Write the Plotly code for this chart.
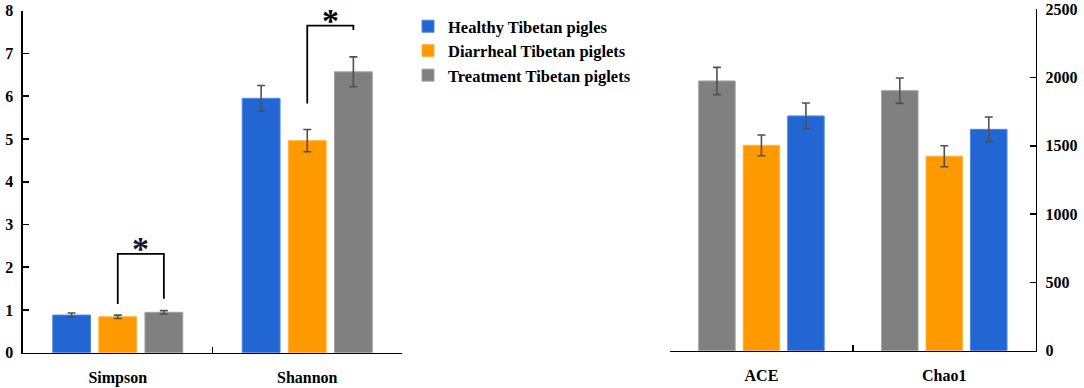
import plotly.graph_objects as go

# ---- data ----
categories_left = ["Simpson", "Shannon"]
healthy_left = [0.88, 5.95]
healthy_left_err = [0.05, 0.30]
diarrheal_left = [0.84, 4.96]
diarrheal_left_err = [0.04, 0.26]
treatment_left = [0.945, 6.57]
treatment_left_err = [0.04, 0.35]

categories_right = ["ACE", "Chao1"]
healthy_right = [1719, 1621]
healthy_right_err = [95, 90]
diarrheal_right = [1504, 1424]
diarrheal_right_err = [76, 77]
treatment_right = [1975, 1904]
treatment_right_err = [100, 93]

group_names = ["Healthy Tibetan pigles", "Diarrheal Tibetan piglets", "Treatment Tibetan piglets"]

# significance brackets: (category index, left foot, top, right foot)
brackets = [(0, 1.14, 2.31, 1.26), (1, 5.83, 7.65, 7.55)]

# ---- styles ----
FONT = "Liberation Serif"
colors = {"h": "#2266D3", "d": "#FF9900", "t": "#808080"}
edge = {"h": "#4C86E6", "d": "#FFB340", "t": "#A0A0A0"}
err_style = dict(type="data", color="#505050", thickness=1.6, width=4)
star_colors = ["#141438", "#000000"]

W, H = 1084, 388
fig = go.Figure()

def bar(x, y, e, key, name, xa, ya, show):
    fig.add_trace(go.Bar(
        x=x, y=y, name=name, xaxis=xa, yaxis=ya, showlegend=show,
        marker=dict(color=colors[key], line=dict(color=edge[key], width=1)),
        error_y=dict(array=e, **err_style),
    ))

bar(categories_left, healthy_left, healthy_left_err, "h", group_names[0], "x", "y", True)
bar(categories_left, diarrheal_left, diarrheal_left_err, "d", group_names[1], "x", "y", True)
bar(categories_left, treatment_left, treatment_left_err, "t", group_names[2], "x", "y", True)
bar(categories_right, treatment_right, treatment_right_err, "t", group_names[2], "x2", "y2", False)
bar(categories_right, diarrheal_right, diarrheal_right_err, "d", group_names[1], "x2", "y2", False)
bar(categories_right, healthy_right, healthy_right_err, "h", group_names[0], "x2", "y2", False)

bargap = 0.27
slot = (1 - bargap) / 3
for k, (idx, y0, ytop, y1) in enumerate(brackets):
    xa, xb = idx, idx + slot
    fig.add_shape(type="path", xref="x", yref="y",
                  path=f"M {xa},{y0} L {xa},{ytop} L {xb},{ytop} L {xb},{y1}",
                  line=dict(color="black", width=1.8))
    fig.add_annotation(x=(xa + xb) / 2, y=ytop, xref="x", yref="y", text="*",
                       showarrow=False, yanchor="bottom", yshift=-15,
                       font=dict(family=FONT, size=34, color=star_colors[k], weight="bold"))

tickfont = dict(family=FONT, size=16, color="black", weight="bold")
xax = dict(type="category", showline=True, linecolor="black", linewidth=1.6,
           ticks="inside", tickson="boundaries", ticklen=6, tickwidth=1.6, tickcolor="black",
           tickfont=tickfont, showgrid=False, zeroline=False, automargin=False,
           ticklabelstandoff=9, fixedrange=True)
yax = dict(showline=True, linecolor="black", linewidth=1.6, ticks="inside", ticklen=6,
           tickwidth=1.6, tickcolor="black", tickfont=tickfont, showgrid=False,
           zeroline=False, automargin=False, fixedrange=True, ticklabelstandoff=5)

fig.update_layout(
    width=W, height=H, margin=dict(l=0, r=0, t=0, b=0),
    template="none", plot_bgcolor="white", paper_bgcolor="white",
    barmode="group", bargap=bargap, bargroupgap=0.18,
    xaxis=dict(domain=[23 / W, 402 / W], anchor="y", **xax),
    yaxis=dict(domain=[(H - 352.7) / H, (H - 10.7) / H], range=[0, 8], dtick=1, anchor="x", **yax),
    xaxis2=dict(domain=[670 / W, 1035.7 / W], anchor="y2", **xax),
    yaxis2=dict(domain=[(H - 350.7) / H, (H - 9.3) / H], range=[0, 2500], dtick=500,
                anchor="x2", side="right", **yax),
    legend=dict(x=408 / W, y=(H - 9) / H, xanchor="left", yanchor="top",
                font=dict(family=FONT, size=16.5, color="black", weight="bold"),
                bgcolor="rgba(0,0,0,0)", tracegroupgap=7, traceorder="normal"),
    font=dict(family=FONT, color="black"),
)

fig.write_html("out.html", config={"displayModeBar": False, "staticPlot": True},
               post_script="document.body.style.margin='0';document.body.style.overflow='hidden';")
